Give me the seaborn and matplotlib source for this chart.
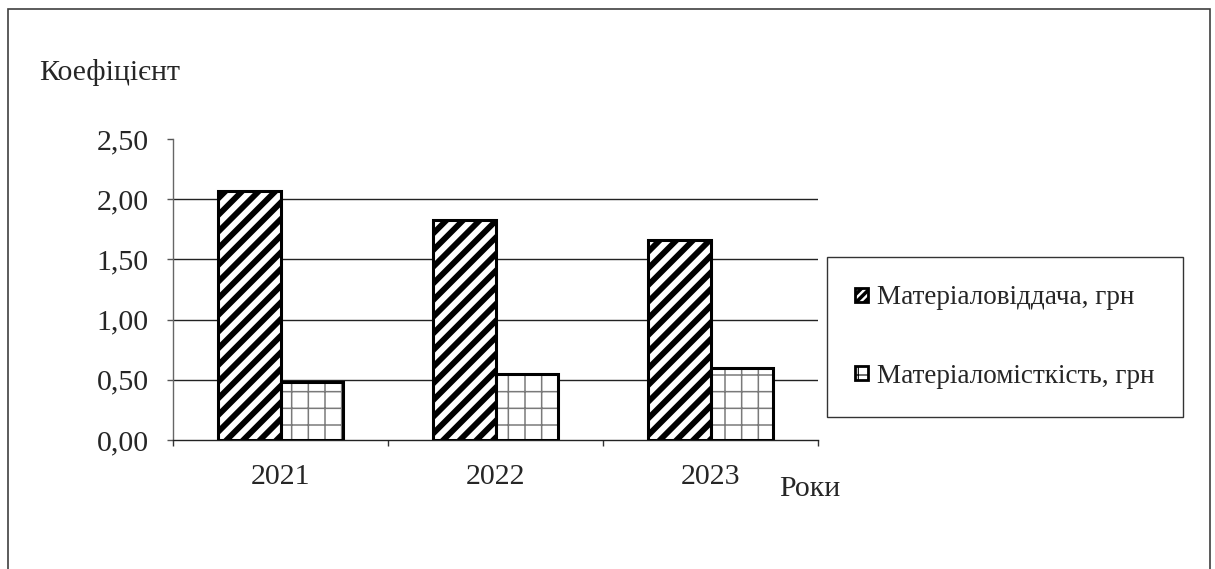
import matplotlib
matplotlib.use("Agg")
import matplotlib.pyplot as plt
import matplotlib.patches as mpatches
import seaborn as sns
import pandas as pd

years = ["2021", "2022", "2023"]
efficiency = [2.07, 1.83, 1.66]
intensity = [0.48, 0.55, 0.60]
series_names = ["Матеріаловіддача, грн", "Матеріаломісткість, грн"]
y_ticks = [0.0, 0.5, 1.0, 1.5, 2.0, 2.5]
y_title = "Коефіцієнт"
x_title = "Роки"

df = pd.DataFrame({
    "year": years * 2,
    "value": efficiency + intensity,
    "series": [series_names[0]] * len(years) + [series_names[1]] * len(years),
})

sns.set_style("white")
plt.rcParams["font.family"] = ["Liberation Serif", "DejaVu Serif"]

W, H = 1215, 569
FS = 21.5
fig = plt.figure(figsize=(W / 100, H / 100), dpi=100)
ax = fig.add_axes([173 / W, 1 - 440 / H, (818 - 173) / W, (440 - 139) / H])

sns.barplot(data=df, x="year", y="value", hue="series", order=years,
            hue_order=series_names, palette=["white", "white"], saturation=1,
            width=0.58, edgecolor="black", linewidth=2.2, legend=False,
            ax=ax, zorder=3)

HATCH_STRIPE = "//"
HATCH_GRID = "+"
GRID_COLOR = "#7a7a7a"


def hatch_width(patch, lw):
    if hasattr(patch, "set_hatch_linewidth"):
        patch.set_hatch_linewidth(lw)


# first series: thick diagonal stripes
for p in ax.containers[0]:
    p.set_hatch(HATCH_STRIPE)
    hatch_width(p, 4.2)

# second series: fine grey grid, outline drawn on top in black
for p in ax.containers[1]:
    p.set_edgecolor(GRID_COLOR)
    p.set_linewidth(0)
    p.set_hatch(HATCH_GRID)
    hatch_width(p, 1.1)
    outline = mpatches.Rectangle((p.get_x(), p.get_y()), p.get_width(), p.get_height(),
                                 fill=False, edgecolor="black", linewidth=2.2, zorder=4)
    ax.add_patch(outline)

ax.set_xlim(-0.5, len(years) - 0.5)
ax.set_ylim(y_ticks[0], y_ticks[-1])

# horizontal gridlines (no line at the top tick)
ax.hlines(y_ticks[1:-1], 0, 1, transform=ax.get_yaxis_transform(),
          color="#222222", linewidth=1.0, zorder=1)

ax.set_yticks(y_ticks)
ax.set_yticklabels([f"{v:.2f}".replace(".", ",") for v in y_ticks])
ax.tick_params(axis="y", which="major", left=True, direction="out", length=4.5,
               width=1, color="#555555", labelsize=FS, pad=13)

ax.set_xticks([i - 0.5 for i in range(len(years) + 1)])
ax.set_xticklabels([])
ax.set_xticks(range(len(years)), minor=True)
ax.set_xticklabels(years, minor=True)
ax.tick_params(axis="x", which="major", bottom=True, direction="out", length=4.5,
               width=1, color="#333333")
ax.tick_params(axis="x", which="minor", bottom=True, length=0, labelsize=FS, pad=17)

ax.set_xlabel("")
ax.set_ylabel("")
for side in ("top", "right"):
    ax.spines[side].set_visible(False)
ax.spines["left"].set_color("#666666")
ax.spines["left"].set_linewidth(1)
ax.spines["bottom"].set_color("#222222")
ax.spines["bottom"].set_linewidth(1)

fig.text(39 / W, 1 - 72 / H, y_title, ha="left", va="center", fontsize=FS)
fig.text(779 / W, 1 - 489 / H, x_title, ha="left", va="center", fontsize=FS)

handles = [
    mpatches.Patch(facecolor="white", edgecolor="black", hatch="////", linewidth=2),
    mpatches.Patch(facecolor="white", edgecolor="black", hatch="+", linewidth=2),
]
leg = fig.legend(handles, series_names, loc="upper left",
                 bbox_to_anchor=(827 / W, 1 - 257 / H), borderaxespad=0,
                 frameon=True, fancybox=False, edgecolor="black", fontsize=19.5,
                 handlelength=0.45, handleheight=0.45, handletextpad=0.33,
                 labelspacing=1.96, borderpad=1.05)
leg.get_frame().set_linewidth(1.0)
hatch_width(leg.legend_handles[0], 2.5)
hatch_width(leg.legend_handles[1], 0.8)

# outer frame around the chart
fig.add_artist(mpatches.Rectangle((8 / W, -0.05), (1210 - 8) / W, 1 - 9 / H + 0.05,
                                  transform=fig.transFigure, fill=False,
                                  edgecolor="#404040", linewidth=1.2))

fig.savefig("out.png", dpi=100)
